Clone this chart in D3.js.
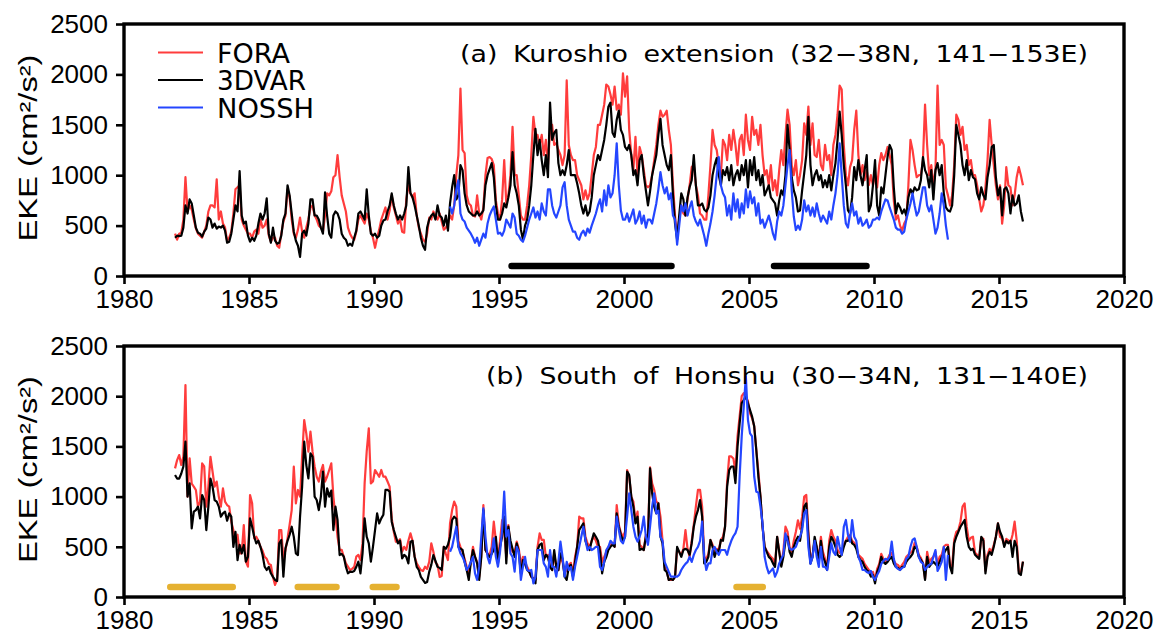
<!DOCTYPE html>
<html>
<head>
<meta charset="utf-8">
<script src="https://cdn.jsdelivr.net/npm/d3@7"></script>
<style>
  html, body { margin: 0; padding: 0; background: #fff; }
  svg { display: block; }
</style>
</head>
<body>
<svg id="chart" width="1158" height="634"></svg>
<script>
// Monthly eddy kinetic energy (cm^2/s^2), one row per year, Jan..Dec.
const startYear = 1982;          // FORA and 3DVAR: 1982-01 .. 2015-12
const nosshStartYear = 1993;     // NOSSH: 1993-01 .. 2012-12

const xTicks = [1980, 1985, 1990, 1995, 2000, 2005, 2010, 2015, 2020];
const yTicks = [0, 500, 1000, 1500, 2000, 2500];
const seriesNames = ["FORA", "3DVAR", "NOSSH"];
const seriesColors = ["#ff3c3c", "#000000", "#2446ff"];

// (a) Kuroshio extension
const kuroFORA = [
  420, 360, 420, 430, 560, 980, 640, 700, 660, 560, 470, 420,
  400, 380, 440, 500, 640, 700, 700, 680, 960, 560, 640, 520,
  480, 350, 380, 440, 620, 860, 880, 900, 560, 500, 460, 420,
  420, 380, 440, 460, 420, 560, 480, 500, 560, 400, 340, 380,
  380, 300, 280, 420, 540, 600, 860, 780, 560, 420, 380, 460,
  580, 440, 380, 480, 560, 680, 700, 600, 560, 500, 480, 440,
  600, 820, 800, 840, 980, 1000, 1200, 980, 800, 720, 640, 480,
  420, 380, 360, 440, 560, 600, 560, 520, 620, 560, 440, 380,
  280, 380, 460, 560, 620, 680, 560, 650, 800, 680, 600, 520,
  560, 440, 430, 760, 900, 820, 780, 820, 600, 480, 420, 360,
  340, 420, 580, 560, 640, 600, 560, 620, 540, 460, 480, 520,
  600, 560, 700, 1000, 1200, 1860, 1250, 1220, 800, 720, 700, 600,
  590, 800, 620, 560, 680, 1000, 1170, 1180, 1160, 1100, 750, 620,
  560, 760, 1150, 720, 800, 1000, 1480, 1000, 1000, 800, 600, 560,
  560, 700, 900, 1200, 1580, 1400, 1400, 1300, 1400, 1200, 1350, 1100,
  1440, 1500, 1300, 1320, 1250, 1200, 1100, 1200, 1940, 1300, 1200, 1150,
  1150, 1000, 950, 900, 760, 850, 760, 820, 1000, 1200, 1280, 1500,
  1500, 1600, 1700, 1900, 1880, 1800, 1700, 1880, 1650, 1700, 1600, 2010,
  1780, 1980, 1450, 1200, 1050, 1380, 1000, 1280, 1200, 1050, 900, 880,
  900, 1000, 1150, 1300, 1500, 1640, 1580, 1600, 1640, 1450, 1300, 900,
  600, 400, 560, 700, 620, 600, 760, 900, 1080, 1100, 900, 800,
  620, 600, 560, 560, 800, 1100, 1450, 1300, 1250, 1100, 1000, 1350,
  1300, 1150, 1400, 1250, 1450, 1300, 1100, 1350, 1400, 1200, 1600, 1350,
  1250, 1580, 1400, 1450, 1300, 1500, 1200, 1000, 1050, 900, 1100, 850,
  950, 800, 1050, 1250, 1100, 1400, 1650, 1500, 1100, 1000, 1150, 900,
  1000, 1150, 1515, 1400, 1680, 1300, 1515, 1200, 1180, 1350, 1100, 1050,
  1300, 1150, 1200, 1000, 1300, 1400, 1600, 1890, 1850, 1300, 1000, 900,
  1080, 1150, 1450, 1640, 1200, 1000, 1100, 950, 1050, 900, 1000, 900,
  1000, 880, 1100, 1220, 1150, 1200, 1280, 1200, 1100, 750, 560, 600,
  500, 450, 520, 560, 900, 1350, 1250, 1100, 980, 1000, 1000, 1150,
  1700, 1300, 1000, 1100, 900, 1050, 1890, 1300, 1350, 1300, 880, 800,
  700, 800, 1100, 1600, 1550, 1400, 1480, 1250, 1300, 1100, 1150, 1000,
  1000, 900, 760, 640, 700, 880, 1150, 1550, 1300, 1100, 900, 760,
  900, 520, 700, 1080, 900, 880, 700, 800, 980, 1080, 1000, 900
];

const kuro3DVAR = [
  380, 400, 395, 400, 480, 700, 620, 760, 720, 600, 480, 430,
  420, 390, 440, 470, 580, 560, 480, 520, 470, 490, 480, 500,
  450, 330, 340, 420, 560, 700, 640, 1040, 600, 520, 540, 400,
  340, 380, 350, 400, 520, 620, 560, 620, 770, 420, 330, 480,
  350, 320, 330, 400, 560, 620, 900, 800, 620, 440, 350, 300,
  190, 420, 450, 400, 520, 760, 760, 600, 600, 560, 480, 420,
  830, 600, 420, 380, 600, 640, 620, 560, 420, 380, 360, 300,
  320, 300, 380, 450, 620, 640, 600, 560, 860, 600, 420, 400,
  420, 380, 400, 500, 550, 560, 640, 700, 820, 700, 620, 560,
  600, 560, 620, 700, 1080, 820, 780, 700, 600, 500, 380, 300,
  260, 480, 560, 600, 620, 560, 700, 600, 580, 500, 600, 450,
  720, 880, 1000, 760, 800, 1100, 1050, 820, 700, 640, 620, 600,
  600, 640, 600, 620, 650, 900, 1000, 1060, 1120, 980, 700, 560,
  560, 620, 720, 680, 780, 900, 1230, 900, 820, 700, 460, 360,
  500, 560, 700, 900, 1200, 1460, 1200, 1350, 1150, 1000, 1200, 980,
  1720, 1350, 1420, 1450, 1120, 1000, 1050, 1000, 1100, 1250, 1000, 1000,
  1000, 920, 820, 700, 620, 700, 600, 640, 780, 1000, 1100, 1200,
  1150, 1250, 1350, 1500, 1680, 1720, 1420, 1380, 1550, 1640, 1450, 1400,
  1280, 1250, 1300, 1200, 1000, 1050, 900, 1150, 1200, 1000, 850, 700,
  840, 1000, 1100, 1200, 1400, 1560, 1300, 1200, 1100, 1050, 1200, 800,
  520, 360, 600, 820, 760, 600, 780, 880, 950, 1200, 900, 700,
  700, 720, 660, 640, 680, 800, 1000, 1100, 1170, 1000, 900, 1050,
  1000, 1080, 950, 1100, 900, 1000, 1050, 950, 1100, 1000, 1150, 880,
  1150, 1000, 1180, 950, 1050, 900, 1000, 800, 850, 900, 780, 750,
  720, 600, 750, 850, 800, 1000, 1500, 1250, 980, 850, 780, 640,
  650, 850, 1020, 1200, 1580, 1100, 900, 1000, 1050, 950, 1000, 880,
  950, 880, 1000, 850, 1000, 1120, 1350, 1630, 1400, 1100, 900, 650,
  620, 780, 1080, 950, 1150, 1000, 900, 1050, 1200, 640, 700, 900,
  1150, 700, 600, 880, 820, 1000, 1180, 1300, 1250, 880, 620, 720,
  680, 620, 660, 600, 780, 860, 820, 880, 850, 860, 950, 1180,
  1050, 1000, 880, 1050, 760, 1050, 1120, 1000, 1100, 820, 680, 650,
  640, 700, 1000, 1500, 1400, 1300, 1100, 1000, 1150, 950, 1050, 980,
  960, 820, 760, 880, 800, 760, 980, 1100, 1280, 1300, 980, 800,
  880, 600, 860, 880, 820, 620, 800, 700, 720, 800, 640, 540
];

const kuroNOSSH = [
  690, 620, 700, 850, 950, 620, 560, 540, 480, 450, 420, 380,
  330, 380, 300, 360, 420, 380, 520, 600, 650, 690, 560, 420,
  430, 400, 450, 560, 520, 480, 620, 580, 420, 400, 360, 340,
  400, 480, 560, 620, 680, 580, 640, 560, 720, 640, 600, 860,
  860, 700, 620, 580, 640, 700, 880, 930, 700, 560, 500, 440,
  440, 380, 360, 420, 450, 400, 470, 430, 500, 560, 620, 700,
  760, 640, 850, 700, 900, 780, 820, 1000, 1316, 900, 650, 560,
  560, 620, 540, 600, 660, 520, 560, 640, 520, 600, 480, 560,
  560, 520, 620, 720, 860, 1030, 900, 820, 880, 760, 820, 600,
  560, 310, 500, 700, 640, 720, 600, 680, 740, 600, 540, 500,
  560, 480, 400, 300, 420, 520, 640, 800, 1000, 1180, 900, 820,
  780, 600, 700, 560, 820, 640, 760, 580, 720, 620, 860, 680,
  840, 720, 780, 600, 720, 520, 560, 480, 540, 600, 520, 420,
  360, 540, 640, 600, 700, 900, 1100, 1250, 850, 590, 456, 500,
  460, 560, 750, 640, 700, 600, 680, 590, 720, 620, 540, 600,
  560, 520, 640, 560, 700, 820, 1000, 1316, 1000, 700, 520, 480,
  620, 720, 600, 640, 520, 580, 500, 520, 560, 480, 500, 560,
  560, 580, 560, 640, 700, 760, 750, 680, 620, 560, 480, 460,
  460, 420, 440, 560, 640, 720, 820, 700, 600, 640, 760, 880,
  880, 700, 640, 700, 560, 420, 480, 620, 820, 700, 500, 360
];

// (b) South of Honshu
const honFORA = [
  1281, 1364, 1414, 1315, 1400, 2111, 1000, 1380, 1130, 1100, 1066, 900,
  950, 1330, 1300, 900, 1100, 1397, 1250, 1100, 1150, 1000, 900, 1082,
  950, 916, 900, 750, 667, 560, 620, 435, 435, 717, 352, 302,
  1016, 933, 584, 600, 560, 500, 460, 401, 380, 330, 319, 200,
  120, 170, 667, 667, 380, 468, 584, 720, 866, 1298, 933, 1066,
  1000, 1400, 1763, 1630, 1447, 1647, 1447, 1300, 1198, 1149, 1250, 1315,
  1150, 1200, 1265, 1331, 1000, 800, 600, 468, 470, 400, 335, 302,
  269, 280, 300, 402, 420, 368, 534, 1132, 1450, 1680, 1132, 1150,
  1265, 1232, 1198, 1265, 1198, 1198, 1150, 1099, 783, 650, 551, 551,
  575, 452, 500, 470, 560, 634, 560, 402, 335, 300, 269, 260,
  302, 280, 350, 534, 450, 345, 320, 200, 210, 500, 430, 368,
  733, 866, 950, 900, 560, 500, 450, 380, 300, 240, 350, 500,
  400, 350, 200, 420, 916, 468, 430, 420, 500, 750, 560, 380,
  560, 767, 650, 400, 717, 500, 450, 450, 551, 480, 320, 400,
  350, 300, 260, 200, 190, 170, 500, 634, 568, 568, 400, 420,
  300, 269, 430, 300, 269, 400, 350, 240, 269, 320, 340, 240,
  400, 500, 800, 783, 783, 600, 534, 500, 560, 600, 560, 500,
  500, 350, 400, 450, 500, 520, 540, 500, 916, 720, 640, 600,
  650, 1265, 1200, 1000, 950, 760, 850, 520, 500, 468, 620, 600,
  1292, 1132, 1066, 950, 933, 800, 560, 300, 260, 170, 170, 170,
  200, 480, 450, 420, 480, 667, 480, 400, 560, 720, 900, 1066,
  1066, 900, 400, 380, 430, 568, 520, 420, 480, 470, 568, 600,
  700, 1150, 1400, 1400, 1380, 1250, 1600, 1800, 2000, 2030, 2000, 1950,
  1830, 1780, 1700, 1464, 1250, 1000, 700, 500, 460, 430, 400, 380,
  320, 600, 460, 320, 460, 700, 650, 500, 440, 560, 650, 764,
  680, 800, 1000, 1016, 650, 380, 420, 560, 500, 380, 600, 450,
  380, 290, 560, 667, 600, 560, 470, 440, 450, 520, 560, 600,
  620, 560, 540, 500, 420, 400, 380, 330, 300, 270, 240, 250,
  170, 280, 330, 430, 380, 360, 380, 420, 440, 360, 330, 320,
  290, 320, 350, 400, 420, 440, 460, 540, 500, 420, 390, 340,
  180, 450, 350, 380, 400, 450, 330, 400, 420, 500, 520, 520,
  320, 300, 570, 650, 667, 750, 900, 933, 700, 560, 590, 600,
  440, 420, 400, 590, 580, 260, 420, 480, 450, 520, 600, 733,
  600, 584, 520, 580, 565, 540, 620, 750, 560, 260, 240, 352
];

const hon3DVAR = [
  1215, 1180, 1180, 1230, 1300, 1547, 1000, 1132, 684, 850, 866, 900,
  783, 1016, 966, 667, 900, 1180, 1100, 966, 950, 900, 800, 833,
  850, 760, 833, 800, 500, 650, 368, 520, 435, 518, 352, 400,
  783, 700, 600, 534, 560, 500, 420, 302, 269, 300, 236, 200,
  170, 160, 534, 568, 203, 484, 560, 620, 700, 600, 435, 418,
  800, 1100, 1547, 1315, 1182, 1431, 1398, 1000, 966, 866, 1000, 1248,
  900, 1082, 1000, 1060, 667, 900, 767, 418, 430, 402, 302, 236,
  252, 250, 260, 300, 352, 236, 435, 783, 600, 534, 352, 500,
  667, 833, 733, 783, 820, 1066, 1066, 1050, 750, 667, 600, 534,
  560, 385, 420, 400, 335, 551, 560, 402, 300, 269, 200, 170,
  140, 150, 250, 320, 418, 360, 300, 290, 269, 500, 480, 520,
  600, 767, 800, 780, 500, 480, 468, 350, 269, 170, 350, 468,
  400, 335, 170, 400, 866, 468, 430, 400, 430, 468, 600, 335,
  500, 600, 800, 335, 700, 560, 480, 400, 534, 450, 236, 368,
  330, 269, 250, 203, 180, 136, 468, 520, 534, 368, 420, 400,
  300, 269, 468, 300, 269, 435, 380, 203, 170, 300, 320, 203,
  350, 500, 667, 700, 733, 560, 500, 468, 560, 634, 600, 560,
  450, 236, 350, 400, 468, 500, 520, 500, 833, 700, 620, 560,
  600, 1248, 1215, 1000, 900, 733, 800, 468, 480, 468, 600, 550,
  1282, 1033, 900, 833, 933, 600, 534, 269, 250, 170, 180, 170,
  200, 500, 450, 400, 468, 480, 468, 420, 534, 700, 800, 866,
  966, 800, 335, 350, 400, 568, 500, 400, 468, 450, 568, 560,
  700, 1100, 1265, 1300, 1300, 1135, 1500, 1730, 1930, 1960, 2000, 1930,
  1863, 1796, 1700, 1464, 1200, 1000, 700, 500, 450, 400, 380, 335,
  300, 600, 450, 302, 400, 560, 600, 450, 400, 500, 560, 600,
  560, 700, 900, 933, 600, 335, 400, 600, 500, 350, 560, 400,
  350, 269, 500, 600, 560, 500, 420, 400, 420, 500, 560, 560,
  600, 534, 520, 480, 400, 368, 350, 300, 269, 250, 203, 220,
  136, 250, 302, 400, 350, 330, 350, 380, 400, 335, 300, 290,
  269, 300, 300, 350, 380, 400, 430, 500, 480, 400, 370, 335,
  170, 400, 300, 330, 350, 330, 302, 350, 400, 432, 470, 500,
  300, 236, 534, 600, 650, 700, 733, 767, 600, 500, 468, 480,
  420, 400, 380, 600, 560, 236, 400, 450, 420, 500, 600, 733,
  650, 600, 500, 560, 534, 560, 400, 560, 500, 236, 219, 352
];

const honNOSSH = [
  451, 500, 600, 700, 500, 435, 400, 350, 269, 300, 350, 400,
  236, 170, 300, 600, 883, 600, 400, 335, 435, 584, 400, 302,
  450, 667, 1049, 600, 667, 435, 400, 252, 500, 450, 170, 300,
  400, 269, 260, 269, 136, 200, 468, 468, 468, 335, 300, 203,
  468, 302, 300, 203, 350, 551, 400, 203, 350, 269, 300, 170,
  300, 400, 500, 600, 700, 568, 468, 500, 468, 480, 500, 500,
  300, 269, 350, 468, 500, 560, 534, 534, 800, 667, 560, 534,
  600, 800, 1033, 866, 700, 600, 551, 600, 667, 800, 600, 520,
  700, 900, 1033, 833, 860, 600, 560, 350, 300, 250, 203, 203,
  203, 203, 220, 269, 302, 330, 350, 400, 350, 420, 468, 500,
  560, 750, 400, 269, 335, 335, 468, 500, 450, 420, 468, 468,
  468, 420, 500, 560, 605, 637, 700, 1200, 1600, 1900, 2195, 1763,
  1630, 1600, 1200, 1049, 1040, 900, 733, 400, 300, 236, 260, 285,
  203, 250, 335, 380, 420, 634, 560, 480, 470, 480, 500, 560,
  600, 667, 833, 866, 500, 330, 400, 560, 400, 300, 500, 302,
  300, 269, 400, 534, 450, 420, 600, 500, 420, 700, 767, 620,
  550, 767, 600, 560, 400, 350, 269, 269, 250, 240, 260, 200,
  170, 220, 260, 330, 360, 380, 370, 400, 551, 380, 300, 280,
  269, 290, 300, 380, 400, 500, 568, 584, 500, 400, 350, 335,
  269, 300, 320, 330, 400, 468, 260, 300, 350, 500, 170, 420
];

// Highlighted periods (decimal years) drawn as bars near the bottom of each panel
const kuroPeriods = [[1995.5, 2001.9], [2006.0, 2009.7]];
const honPeriods = [[1981.85, 1984.35], [1986.95, 1988.5], [1989.95, 1990.9], [2004.5, 2005.55]];

const panelTitles = [
  "(a) Kuroshio extension (32\u221238N, 141\u2212153E)",
  "(b) South of Honshu (30\u221234N, 131\u2212140E)"
];

// ---------------------------------------------------------------------------
const svg = d3.select("#chart");
const x = d3.scaleLinear().domain([1980, 2020]).range([124, 1124]);
const tickFont = "'Liberation Sans', Arial, Helvetica, sans-serif";
const labelFont = "'DejaVu Sans', 'Liberation Sans', sans-serif";

const toPoints = (vals, y0) => vals.map((v, i) => ({ t: y0 + (i + 0.5) / 12, v }));

const panels = [
  {
    top: 24, bottom: 276,
    series: [toPoints(kuroFORA, startYear), toPoints(kuro3DVAR, startYear), toPoints(kuroNOSSH, nosshStartYear)],
    periods: kuroPeriods, periodColor: "#000000",
    title: panelTitles[0], titleX: 460, titleLen: 628, titleY: 62,
    legend: true
  },
  {
    top: 346, bottom: 597,
    series: [toPoints(honFORA, startYear), toPoints(hon3DVAR, startYear), toPoints(honNOSSH, nosshStartYear)],
    periods: honPeriods, periodColor: "#e5b131",
    title: panelTitles[1], titleX: 486, titleLen: 602, titleY: 384,
    legend: false
  }
];

panels.forEach(p => {
  const y = d3.scaleLinear().domain([0, 2500]).range([p.bottom, p.top]);
  const g = svg.append("g");

  // highlighted periods
  g.selectAll("line.period").data(p.periods).join("line")
    .attr("class", "period")
    .attr("x1", d => x(d[0])).attr("x2", d => x(d[1]))
    .attr("y1", y(100)).attr("y2", y(100))
    .attr("stroke", p.periodColor).attr("stroke-width", 6.5)
    .attr("stroke-linecap", "round");

  // time series
  const line = d3.line().x(d => x(d.t)).y(d => y(d.v));
  p.series.forEach((s, k) => {
    g.append("path").datum(s)
      .attr("d", line)
      .attr("fill", "none")
      .attr("stroke", seriesColors[k])
      .attr("stroke-width", 2.2)
      .attr("stroke-linejoin", "round");
  });

  // axes
  const xAxis = d3.axisBottom(x).tickValues(xTicks).tickFormat(d3.format("d"))
    .tickSize(8).tickPadding(6);
  const gx = g.append("g").attr("transform", `translate(0,${p.bottom})`).call(xAxis);
  const yAxis = d3.axisLeft(y).tickValues(yTicks).tickFormat(d3.format("d"))
    .tickSize(8).tickPadding(8);
  const gy = g.append("g").attr("transform", `translate(${x(1980)},0)`).call(yAxis);
  [gx, gy].forEach(a => {
    a.select(".domain").remove();
    a.selectAll(".tick line").attr("stroke", "#000").attr("stroke-width", 2.6);
    a.selectAll(".tick text").attr("fill", "#000")
      .style("font-family", tickFont).style("font-size", "26px");
  });

  // frame
  g.append("rect")
    .attr("x", x(1980)).attr("y", p.top)
    .attr("width", x(2020) - x(1980)).attr("height", p.bottom - p.top)
    .attr("fill", "none").attr("stroke", "#000").attr("stroke-width", 3.4);

  // y-axis title
  const cy = (p.top + p.bottom) / 2 - 2;
  g.append("text")
    .attr("transform", `translate(37,${cy}) rotate(-90)`)
    .attr("text-anchor", "middle")
    .attr("textLength", 187).attr("lengthAdjust", "spacingAndGlyphs")
    .style("font-family", tickFont).style("font-size", "26px")
    .text("EKE  (cm\u00b2/s\u00b2)");

  // panel title
  g.append("text")
    .attr("x", p.titleX).attr("y", p.titleY)
    .attr("textLength", p.titleLen).attr("lengthAdjust", "spacingAndGlyphs")
    .style("font-family", labelFont).style("font-size", "23px")
    .style("word-spacing", "6px")
    .text(p.title);

  // legend
  if (p.legend) {
    const lg = g.append("g");
    const rows = [52.5, 80, 107.5];
    const widths = [73, 89, 97];
    seriesNames.forEach((name, k) => {
      lg.append("line")
        .attr("x1", 158).attr("x2", 203)
        .attr("y1", rows[k]).attr("y2", rows[k])
        .attr("stroke", seriesColors[k]).attr("stroke-width", 2.2);
      lg.append("text")
        .attr("x", 217).attr("y", rows[k] + 10)
        .attr("textLength", widths[k]).attr("lengthAdjust", "spacingAndGlyphs")
        .style("font-family", labelFont).style("font-size", "26px")
        .text(name);
    });
  }
});
</script>
</body>
</html>
